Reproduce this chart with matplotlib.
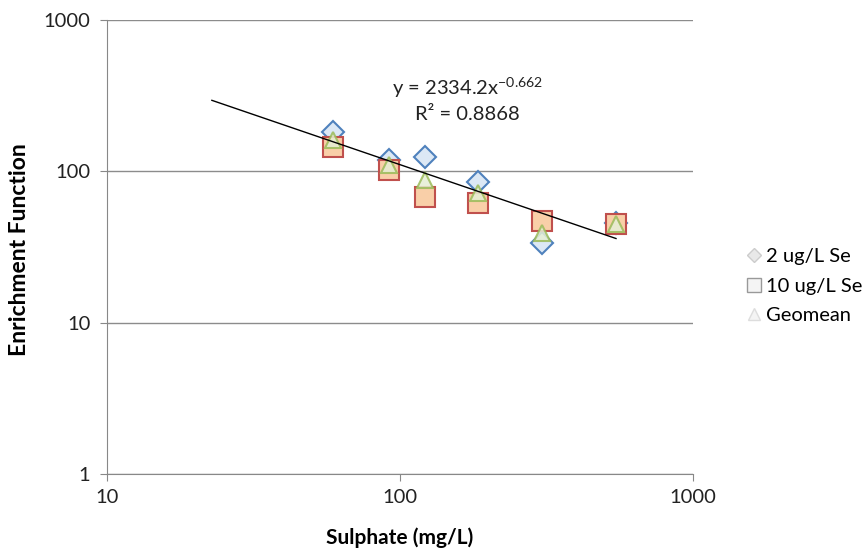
import matplotlib
matplotlib.use("Agg")
import matplotlib.pyplot as plt
import numpy as np
from matplotlib.lines import Line2D

plt.rcParams['font.family'] = ['Lato', 'DejaVu Sans']

sulphate = [59, 91.6, 121.6, 184.5, 305, 546]
se_2 = [182, 119, 124, 85, 33.4, 45.5]
se_10 = [144, 102, 68, 62, 47, 44.9]
geomean = [162, 110, 88, 72, 39, 45]
trend_a, trend_b = 2334.2, -0.662
trend_range = [22.8, 546]

W, H = 868, 552
fig = plt.figure(figsize=(W/100, H/100), dpi=100)
ax = fig.add_axes([107/W, 1-474/H, (693-107)/W, (474-20)/H])
ax.set_xscale('log')
ax.set_yscale('log')
ax.set_xlim(10, 1000)
ax.set_ylim(1, 1000)

for s in ['top', 'right']:
    ax.spines[s].set_visible(False)
for s in ['left', 'bottom']:
    ax.spines[s].set_color('#888888')
ax.yaxis.grid(True, which='major', color='#8c8c8c', linewidth=1)
ax.set_axisbelow(True)
ax.minorticks_off()
ax.set_xticks([10, 100, 1000])
ax.set_xticklabels(['10', '100', '1000'])
ax.set_yticks([1, 10, 100, 1000])
ax.set_yticklabels(['1', '10', '100', '1000'])
ax.tick_params(axis='both', colors='#888888', labelcolor='#222222', labelsize=14.5, length=5, direction='out')
ax.tick_params(axis='x', pad=6)
ax.tick_params(axis='y', pad=7)

ax.plot(sulphate, se_2, linestyle='none', marker='D', markersize=11,
        markerfacecolor='#dce8f5', markeredgecolor='#4F81BD', markeredgewidth=1.5, zorder=3)
ax.plot(sulphate, se_10, linestyle='none', marker='s', markersize=14,
        markerfacecolor='#f9cfa8', markeredgecolor='#C0504D', markeredgewidth=1.5, zorder=4)
ax.plot(sulphate, geomean, linestyle='none', marker='^', markersize=12,
        markerfacecolor='#e6eed5', markeredgecolor='#9BBB59', markeredgewidth=1.5, alpha=0.85, zorder=5)

xt = np.geomspace(trend_range[0], trend_range[1], 50)
ax.plot(xt, trend_a * xt ** trend_b, color='black', linewidth=1, zorder=6)

fig.text(468/W, 1-88/H, 'y = 2334.2x$^{\\mathregular{-0.662}}$', ha='center', va='center',
         fontsize=14.5, color='#222222')
fig.text(467/W, 1-114/H, 'R² = 0.8868', ha='center', va='center', fontsize=14.5, color='#222222')

fig.text(400/W, 1-538/H, 'Sulphate (mg/L)', ha='center', va='center', fontsize=15, fontweight='bold')
fig.text(20/W, 1-250/H, 'Enrichment Function', ha='center', va='center', rotation=90,
         fontsize=16.5, fontweight='bold')

handles = [
    Line2D([], [], linestyle='none', marker='D', markersize=7, markerfacecolor='#e8e8e8', markeredgecolor='#cccccc'),
    Line2D([], [], linestyle='none', marker='s', markersize=10, markerfacecolor='#f4f4f4', markeredgecolor='#999999'),
    Line2D([], [], linestyle='none', marker='^', markersize=8, markerfacecolor='#f4f4f4', markeredgecolor='#dddddd'),
]
fig.legend(handles, ['2 ug/L Se', '10 ug/L Se', 'Geomean'], loc='center left',
           bbox_to_anchor=(734/W, 1-286/H), frameon=False, fontsize=14.5,
           handletextpad=0.0, labelspacing=0.6, handlelength=1.2, borderaxespad=0)

fig.savefig('out.png', dpi=100, facecolor='white')
